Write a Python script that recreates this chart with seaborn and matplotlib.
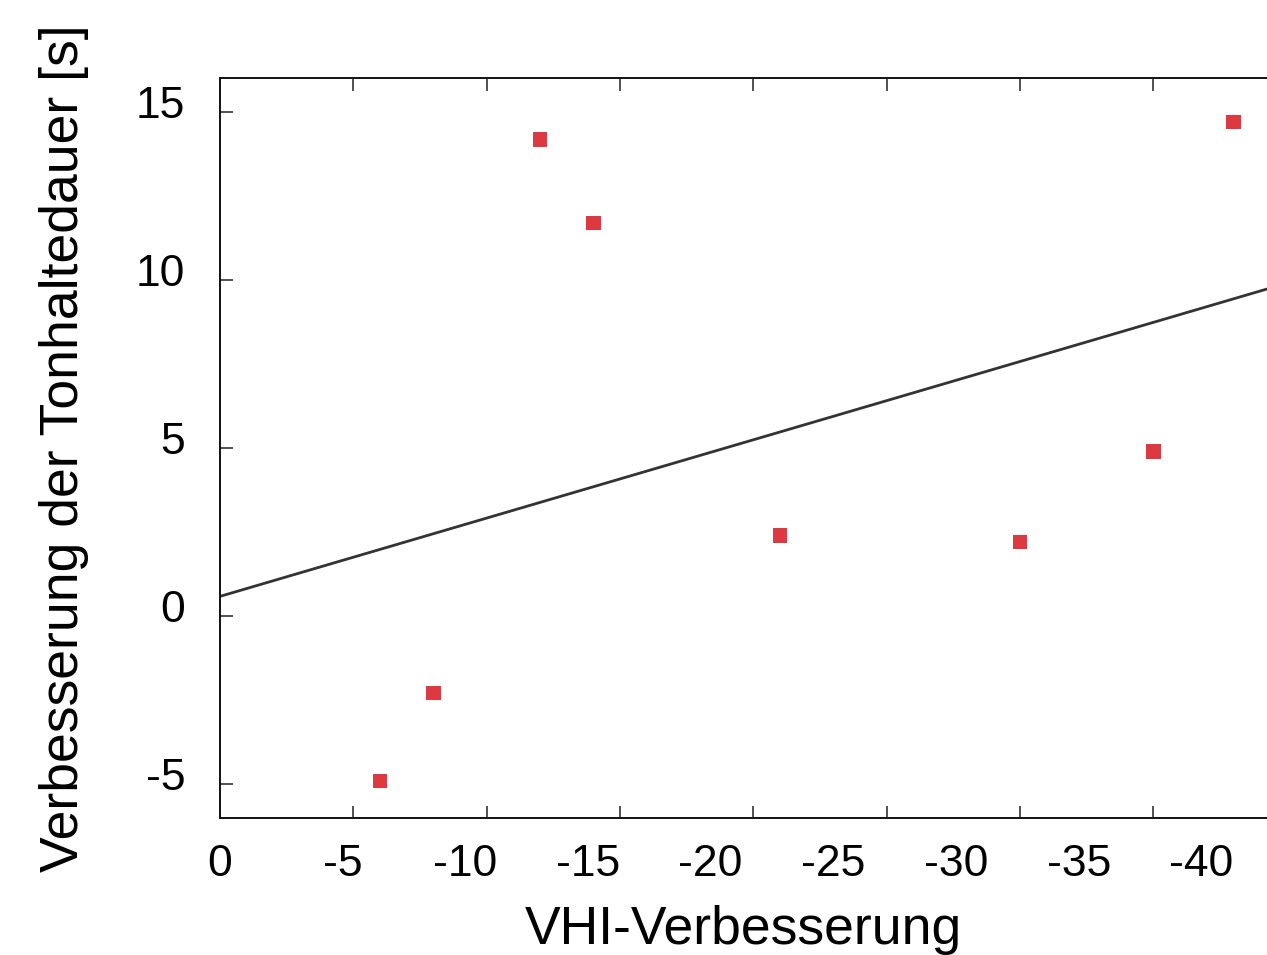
import numpy as np
import pandas as pd
import seaborn as sns
import matplotlib.pyplot as plt
from matplotlib.ticker import FixedLocator

# data
vhi_change = [-6, -8, -12, -14, -21, -30, -35, -38]
hold_change = [-4.9, -2.28, 14.18, 11.69, 2.40, 2.20, 4.90, 14.69]

x_tick_values = [0, -5, -10, -15, -20, -25, -30, -35, -40]
x_tick_labels = ["0", "-5", "-10", "-15", "-20", "-25", "-30", "-35", "-40"]
y_tick_values = [-5, 0, 5, 10, 15]
y_tick_labels = ["-5", "0", "5", "10", "15"]

df = pd.DataFrame({"vhi": vhi_change, "hold": hold_change})

sns.set_style("white")
plt.rcParams["font.family"] = ["Liberation Sans", "DejaVu Sans"]

fig = plt.figure(figsize=(12.67, 9.55), dpi=100)
ax = fig.add_axes([0.1736, 0.1435, 0.8264, 0.7748])

ax.set_xlim(0, -39.26)
ax.set_ylim(-6, 16)

sns.regplot(data=df, x="vhi", y="hold", ax=ax, scatter=False, ci=None,
            truncate=False, line_kws={"color": "#333333", "lw": 2})
sns.scatterplot(data=df, x="vhi", y="hold", ax=ax, marker="s", s=110,
                color="#dc3a40", edgecolor="none", zorder=3)

ax.set_xlim(0, -39.26)
ax.set_ylim(-6, 16)

# tick marks at the true values, labels placed as in the original
ax.xaxis.set_minor_locator(FixedLocator(x_tick_values[:-1]))
ax.set_xticks([v * 0.92 for v in x_tick_values])
ax.set_xticklabels(x_tick_labels)
ax.yaxis.set_minor_locator(FixedLocator(y_tick_values))
ax.set_yticks([v + 0.3 for v in y_tick_values])
ax.set_yticklabels(y_tick_labels)

ax.tick_params(which="major", length=0, labelsize=32, colors="black")
ax.tick_params(axis="x", which="major", pad=19)
ax.tick_params(axis="y", which="major", pad=25)
ax.tick_params(which="minor", direction="in", length=9, width=1.2,
               color="#333333", top=True, bottom=True, left=True)

for side in ["left", "bottom", "top"]:
    ax.spines[side].set_color("#111111")
    ax.spines[side].set_linewidth(1.4)
ax.spines["right"].set_visible(False)

ax.set_xlabel("VHI-Verbesserung", fontsize=38.5, labelpad=14, color="black")
ax.set_ylabel("Verbesserung der Tonhaltedauer [s]", fontsize=38.5,
              labelpad=34, color="black")

fig.savefig("out.png", dpi=100)
